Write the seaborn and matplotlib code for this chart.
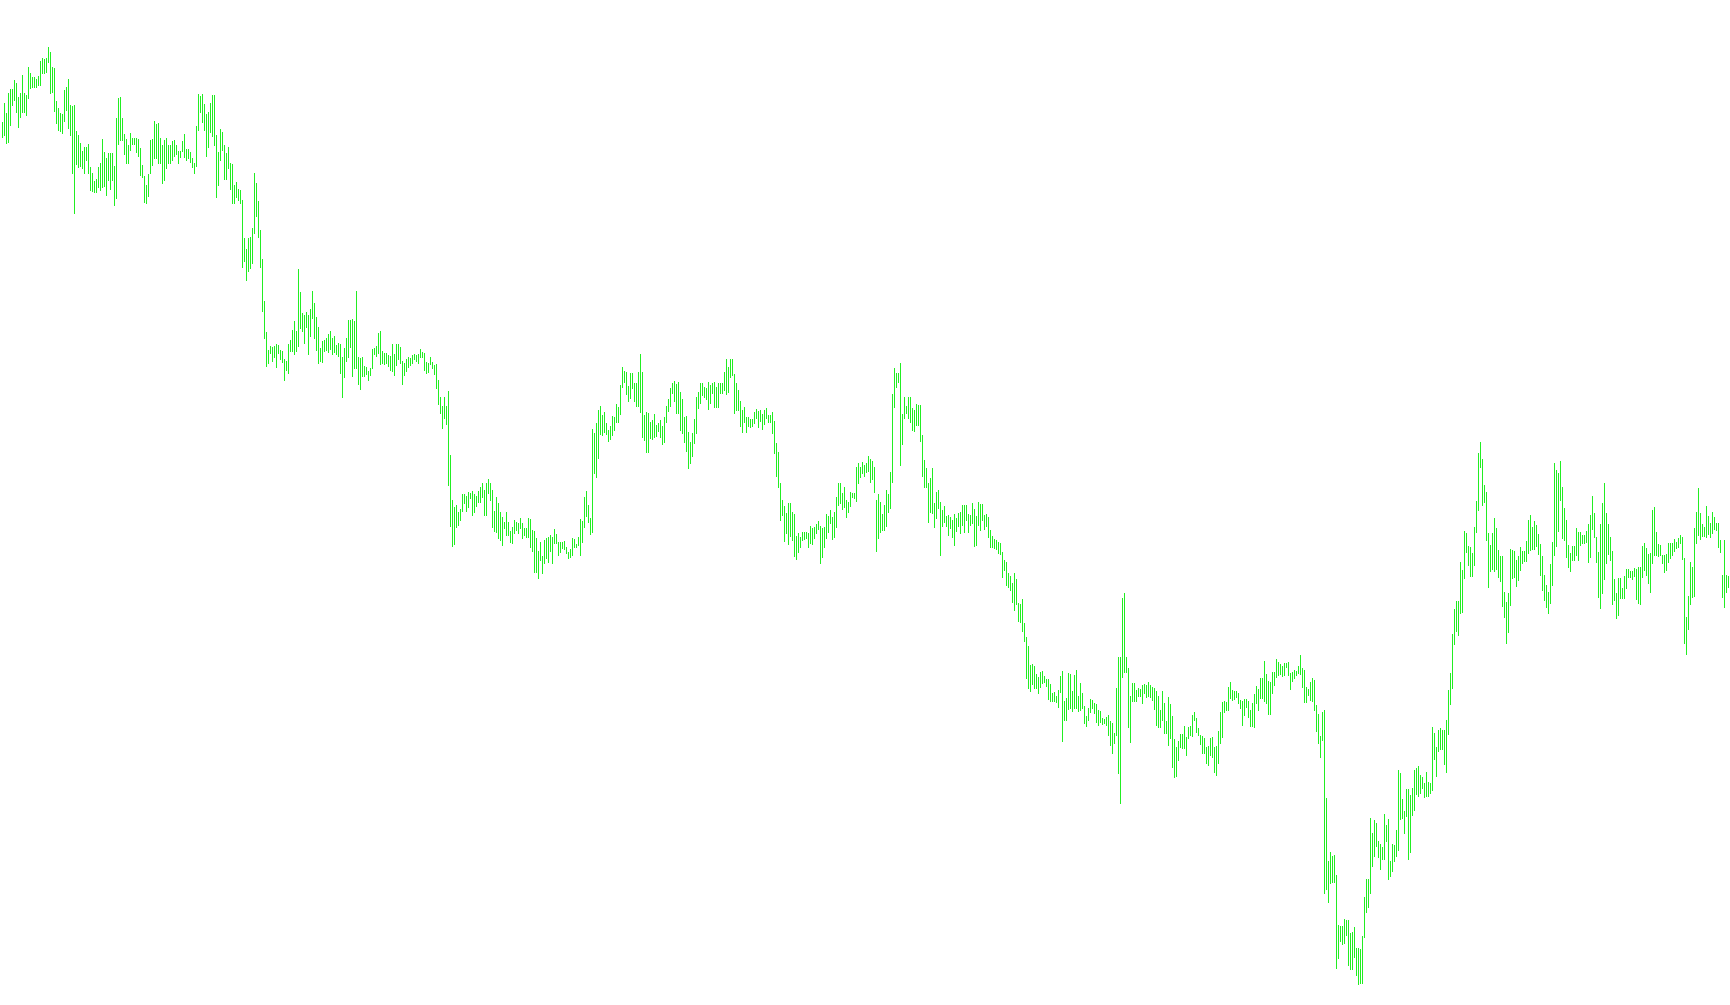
import numpy as np
import matplotlib
matplotlib.use("Agg")
import matplotlib.pyplot as plt
import seaborn as sns

# high / low of each bar (price points)
high = [
    878, 897, 887, 907, 911, 911, 920, 917, 903, 907, 925, 907, 905, 933, 927, 923, 923, 921, 924, 939,
    942, 941, 942, 953, 948, 933, 932, 899, 892, 887, 886, 910, 913, 921, 895, 894, 895, 869, 865, 857,
    849, 853, 853, 856, 833, 827, 819, 821, 833, 837, 861, 848, 842, 847, 847, 847, 834, 882, 902, 903,
    882, 866, 861, 855, 867, 862, 862, 862, 861, 852, 835, 824, 815, 826, 860, 861, 879, 876, 877, 862,
    855, 860, 862, 855, 855, 859, 860, 855, 849, 849, 859, 866, 851, 851, 848, 842, 837, 874, 906, 904,
    906, 896, 886, 888, 897, 905, 905, 865, 848, 871, 868, 855, 847, 853, 837, 836, 815, 818, 811, 810,
    800, 762, 751, 762, 763, 772, 827, 817, 799, 770, 741, 699, 668, 650, 654, 653, 654, 656, 655, 650,
    649, 641, 639, 656, 660, 670, 679, 669, 731, 708, 687, 685, 688, 685, 691, 709, 697, 683, 673, 652,
    659, 660, 662, 666, 669, 662, 664, 655, 657, 656, 643, 652, 662, 680, 680, 681, 679, 709, 643, 642,
    643, 634, 633, 629, 632, 651, 652, 654, 667, 669, 649, 647, 647, 645, 644, 656, 646, 656, 656, 653,
    639, 637, 641, 643, 642, 645, 646, 645, 646, 651, 648, 647, 638, 637, 643, 638, 635, 636, 620, 603,
    594, 603, 594, 609, 545, 500, 493, 495, 488, 491, 506, 506, 504, 508, 507, 509, 506, 504, 509, 513,
    517, 510, 517, 521, 517, 510, 489, 503, 497, 488, 483, 478, 488, 478, 469, 473, 480, 478, 477, 482,
    477, 472, 472, 482, 481, 470, 469, 462, 449, 458, 444, 460, 462, 463, 465, 463, 471, 466, 458, 458,
    458, 459, 453, 448, 451, 462, 461, 456, 463, 481, 479, 503, 509, 495, 482, 571, 567, 577, 590, 594,
    585, 588, 577, 570, 574, 584, 583, 596, 593, 615, 633, 629, 628, 614, 627, 627, 617, 617, 628, 646,
    628, 585, 588, 587, 578, 580, 586, 575, 577, 580, 574, 583, 594, 601, 612, 617, 619, 616, 618, 608,
    601, 583, 584, 568, 558, 567, 581, 603, 608, 617, 617, 613, 612, 618, 615, 617, 618, 613, 617, 617,
    617, 628, 641, 633, 641, 641, 626, 617, 610, 599, 590, 593, 583, 583, 581, 581, 588, 591, 589, 590,
    586, 590, 592, 585, 585, 588, 579, 557, 548, 517, 500, 494, 487, 497, 497, 488, 486, 464, 467, 463,
    468, 468, 468, 467, 474, 472, 473, 476, 479, 474, 472, 473, 486, 484, 490, 483, 488, 503, 517, 517,
    507, 513, 500, 498, 508, 507, 507, 533, 537, 533, 538, 535, 537, 544, 541, 539, 533, 500, 506, 498,
    486, 495, 510, 506, 528, 606, 632, 627, 627, 637, 586, 603, 594, 603, 603, 592, 590, 596, 595, 595,
    565, 540, 532, 517, 522, 532, 497, 508, 510, 498, 490, 494, 484, 485, 483, 480, 486, 482, 487, 488,
    495, 495, 495, 486, 485, 497, 491, 484, 498, 496, 496, 485, 486, 483, 470, 464, 461, 460, 458, 457,
    448, 440, 438, 427, 424, 417, 427, 421, 397, 396, 401, 377, 363, 354, 335, 336, 334, 326, 323, 328,
    329, 324, 321, 321, 316, 307, 308, 304, 310, 324, 329, 299, 302, 327, 326, 309, 325, 330, 304, 317,
    307, 294, 284, 292, 301, 300, 297, 296, 290, 289, 282, 281, 283, 285, 279, 277, 267, 312, 343, 343,
    402, 407, 343, 332, 304, 317, 317, 310, 312, 311, 315, 316, 315, 318, 315, 313, 312, 309, 304, 290,
    309, 297, 279, 303, 296, 284, 261, 253, 259, 266, 266, 274, 263, 273, 274, 285, 288, 282, 272, 265,
    264, 262, 253, 254, 262, 263, 253, 254, 269, 288, 298, 299, 298, 313, 318, 310, 309, 309, 307, 300,
    299, 301, 301, 299, 290, 297, 306, 314, 311, 322, 322, 339, 326, 319, 318, 328, 328, 341, 338, 336,
    334, 337, 337, 338, 327, 328, 330, 329, 334, 345, 332, 330, 313, 311, 318, 322, 320, 295, 286, 264,
    288, 290, 202, 139, 148, 144, 145, 125, 75, 74, 74, 81, 80, 80, 67, 68, 73, 52, 52, 51,
    64, 103, 121, 121, 182, 167, 180, 177, 159, 156, 153, 186, 175, 181, 139, 156, 155, 170, 230, 227,
    201, 189, 211, 211, 205, 212, 230, 232, 234, 225, 223, 217, 228, 218, 217, 273, 267, 253, 270, 272,
    270, 270, 280, 310, 327, 366, 391, 399, 399, 438, 430, 469, 467, 454, 453, 447, 473, 499, 547, 558,
    541, 515, 508, 467, 455, 467, 482, 472, 450, 444, 444, 408, 398, 407, 451, 450, 449, 440, 444, 453,
    449, 449, 459, 480, 485, 473, 479, 475, 466, 456, 444, 425, 415, 408, 436, 458, 537, 530, 527, 539,
    513, 492, 480, 455, 447, 454, 454, 472, 468, 468, 465, 465, 469, 476, 485, 504, 487, 463, 448, 476,
    497, 517, 487, 476, 463, 449, 421, 407, 422, 422, 412, 424, 431, 431, 429, 429, 432, 431, 433, 433,
    454, 457, 452, 446, 447, 490, 493, 468, 456, 455, 445, 445, 446, 457, 457, 457, 461, 458, 462, 465,
    463, 442, 383, 404, 438, 433, 472, 488, 512, 487, 476, 473, 494, 484, 477, 488, 483, 477, 477, 460,
    425, 460, 425, 424,
]
low = [
    863, 865, 857, 858, 875, 895, 900, 888, 873, 883, 888, 888, 885, 902, 912, 913, 913, 913, 915, 915,
    927, 927, 928, 938, 907, 908, 889, 877, 870, 869, 867, 879, 890, 872, 865, 827, 787, 836, 833, 834,
    832, 827, 840, 827, 810, 809, 808, 808, 813, 810, 813, 814, 805, 820, 811, 820, 795, 802, 856, 860,
    860, 846, 837, 837, 850, 856, 856, 848, 844, 825, 823, 798, 797, 804, 827, 835, 842, 842, 837, 837,
    817, 820, 832, 837, 837, 840, 844, 846, 837, 843, 849, 843, 840, 842, 838, 833, 827, 834, 870, 888,
    878, 870, 844, 853, 868, 864, 855, 803, 815, 840, 850, 821, 821, 832, 811, 797, 797, 803, 800, 797,
    733, 739, 720, 729, 732, 737, 767, 784, 763, 733, 689, 662, 634, 637, 647, 639, 643, 633, 647, 641,
    638, 620, 630, 627, 649, 649, 646, 649, 654, 672, 669, 657, 673, 646, 664, 682, 662, 650, 637, 639,
    638, 649, 650, 648, 651, 646, 648, 646, 644, 627, 603, 623, 639, 643, 653, 624, 632, 632, 616, 611,
    624, 624, 626, 620, 625, 632, 646, 644, 647, 636, 637, 636, 637, 634, 630, 629, 625, 635, 641, 637,
    616, 625, 629, 633, 635, 637, 641, 639, 637, 643, 643, 630, 627, 628, 636, 632, 626, 612, 596, 587,
    572, 582, 576, 515, 474, 454, 456, 473, 475, 480, 489, 497, 489, 493, 502, 485, 488, 494, 498, 498,
    503, 485, 485, 507, 500, 473, 469, 468, 462, 460, 455, 472, 465, 465, 458, 457, 467, 470, 467, 472,
    462, 465, 463, 463, 453, 449, 428, 428, 422, 440, 427, 437, 442, 438, 449, 437, 457, 457, 445, 448,
    452, 451, 447, 442, 443, 445, 453, 453, 455, 445, 458, 473, 484, 478, 466, 468, 527, 523, 542, 566,
    565, 568, 566, 559, 561, 565, 570, 578, 578, 586, 613, 618, 606, 599, 602, 612, 599, 594, 594, 588,
    563, 560, 548, 548, 562, 561, 563, 564, 569, 563, 556, 558, 578, 589, 594, 607, 599, 587, 587, 570,
    567, 558, 549, 532, 537, 544, 557, 567, 592, 597, 605, 603, 601, 591, 597, 607, 593, 593, 593, 607,
    607, 610, 606, 608, 623, 625, 587, 590, 590, 574, 568, 578, 568, 574, 573, 574, 577, 582, 573, 579,
    571, 576, 582, 578, 578, 567, 547, 524, 513, 480, 485, 459, 467, 456, 464, 460, 444, 441, 448, 453,
    460, 461, 462, 453, 457, 456, 462, 467, 471, 437, 443, 453, 462, 468, 477, 461, 463, 473, 495, 497,
    491, 493, 483, 488, 494, 503, 502, 499, 517, 523, 527, 524, 528, 529, 518, 521, 508, 449, 462, 468,
    470, 470, 474, 488, 492, 518, 593, 613, 618, 535, 556, 582, 587, 582, 578, 570, 569, 575, 575, 559,
    524, 513, 513, 478, 488, 487, 473, 482, 492, 445, 474, 478, 474, 465, 472, 463, 455, 469, 474, 467,
    475, 468, 480, 468, 475, 477, 454, 455, 475, 470, 480, 471, 474, 463, 453, 453, 452, 451, 447, 446,
    423, 430, 415, 413, 410, 398, 390, 396, 379, 378, 369, 359, 322, 312, 309, 316, 312, 312, 307, 313,
    317, 318, 314, 301, 299, 299, 299, 298, 293, 308, 259, 280, 280, 291, 292, 289, 292, 292, 289, 290,
    292, 277, 274, 280, 288, 292, 287, 278, 275, 278, 276, 277, 275, 265, 255, 247, 257, 265, 227, 197,
    323, 328, 328, 273, 258, 299, 299, 299, 304, 304, 297, 307, 303, 304, 303, 300, 291, 275, 273, 273,
    280, 267, 267, 255, 262, 233, 223, 224, 240, 253, 252, 252, 245, 262, 265, 264, 280, 268, 265, 256,
    247, 247, 237, 235, 245, 243, 228, 225, 237, 257, 263, 288, 290, 290, 302, 300, 301, 303, 297, 292,
    275, 285, 293, 283, 274, 274, 273, 297, 290, 302, 302, 299, 297, 286, 286, 307, 315, 323, 325, 326,
    324, 325, 333, 325, 311, 319, 322, 325, 327, 326, 313, 298, 298, 305, 300, 299, 290, 269, 257, 243,
    260, 107, 111, 98, 117, 118, 118, 32, 42, 59, 56, 57, 65, 35, 31, 31, 43, 25, 16, 17,
    17, 63, 88, 93, 107, 134, 144, 154, 143, 131, 141, 141, 159, 121, 124, 129, 139, 144, 150, 181,
    182, 167, 184, 141, 148, 185, 190, 206, 204, 207, 212, 203, 204, 204, 207, 210, 241, 224, 249, 251,
    251, 236, 228, 266, 296, 312, 356, 369, 365, 387, 388, 422, 448, 435, 424, 424, 435, 468, 490, 533,
    495, 498, 460, 413, 429, 431, 429, 431, 423, 419, 394, 383, 357, 368, 395, 422, 423, 414, 420, 430,
    437, 439, 439, 447, 450, 451, 451, 454, 446, 425, 410, 400, 393, 387, 397, 415, 445, 454, 469, 500,
    462, 460, 443, 433, 429, 440, 440, 445, 440, 455, 457, 457, 458, 438, 443, 471, 463, 438, 403, 392,
    407, 421, 437, 446, 440, 396, 400, 382, 385, 402, 402, 402, 412, 423, 423, 421, 424, 401, 397, 396,
    423, 430, 425, 417, 408, 437, 445, 445, 444, 445, 437, 428, 430, 438, 442, 445, 449, 452, 453, 457,
    441, 357, 346, 371, 396, 403, 404, 457, 465, 461, 464, 464, 463, 466, 463, 467, 471, 470, 453, 448,
    403, 393, 408, 413,
]

BAR_COLOR = "#22ee22"

sns.set_style("white")

high = np.array(high)
low = np.array(low)
idx = np.arange(len(high))

fig = plt.figure(figsize=(17.3, 10.05), dpi=100)
ax = fig.add_axes([0, 0, 1, 1])
ax.vlines(idx, low, high, colors=BAR_COLOR, linewidth=0.7, antialiased=False)

# one bar every 2 px, no margins, no axes
ax.set_xlim(-0.75, 864.25)
ax.set_ylim(-5, 1000)
ax.axis("off")
sns.despine(ax=ax, left=True, bottom=True)

fig.savefig("out.png", dpi=100, facecolor="white")
plt.close(fig)
